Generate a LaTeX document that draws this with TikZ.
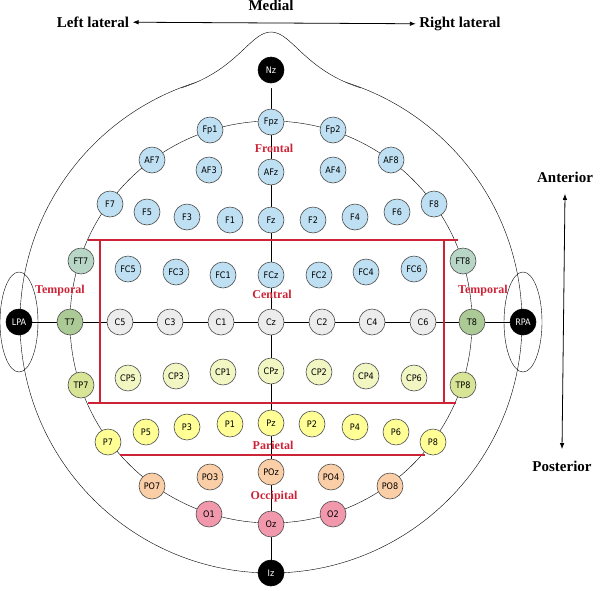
\documentclass[tikz,border=0pt]{standalone}
\usepackage{fontspec}
\setmainfont{Liberation Serif}
\newfontfamily\elecfont{DejaVu Sans Condensed}
\usetikzlibrary{arrows.meta}
\usetikzlibrary{backgrounds}
\definecolor{regionRed}{RGB}{205,35,55}
\definecolor{cFront}{RGB}{190,224,242}
\definecolor{cFT}{RGB}{184,214,198}
\definecolor{cT}{RGB}{172,202,150}
\definecolor{cC}{RGB}{236,236,236}
\definecolor{cCP}{RGB}{242,246,194}
\definecolor{cTP}{RGB}{216,228,150}
\definecolor{cP}{RGB}{255,255,150}
\definecolor{cPO}{RGB}{250,206,166}
\definecolor{cO}{RGB}{242,152,172}
\tikzset{
	electrode/.style = {circle, draw = gray!60!black, semithick, minimum size = 26pt, inner sep = 0pt, font = \elecfont\fontsize{9}{9}\selectfont},
	landmark/.style = {electrode, fill = black, text = white, draw = black},
	region/.style = {text = regionRed, font = \bfseries\fontsize{12}{12}\selectfont},
	direction/.style = {font = \bfseries\fontsize{15}{15}\selectfont},
	regionLine/.style = {draw = regionRed, line width = 2pt}
}
\begin{document}
\begin{tikzpicture}[x = 1pt, y = -1pt]
	\useasboundingbox (0,0) rectangle (604,590);

	% head outline and ears
	\def \headRadius {251};
	\coordinate (headCentre) at (271,322);
	\draw [thin] (headCentre) circle (\headRadius);
	\draw [thin, fill = white] (181,88) .. controls (238,70) and (250,32) .. (271,32) .. controls (292,32) and (304,70) .. (361,88);
	\draw [thin] (19,322) ellipse (19 and 50);
	\draw [thin] (523,322) ellipse (19 and 50);

	% electrodes
	\foreach \name/\px/\py/\col in {Fpz/271/122/cFront, Fp1/210/130/cFront, Fp2/333/130/cFront,
		AF7/152/160/cFront, AF3/209/170/cFront, AFz/271/172/cFront, AF4/333/170/cFront, AF8/391/160/cFront,
		F7/110/204/cFront, F5/147/212/cFront, F3/187/217/cFront, F1/230/220/cFront, Fz/271/220/cFront,
		F2/313/220/cFront, F4/355/217/cFront, F6/397/212/cFront, F8/434/204/cFront,
		FT7/81/261/cFT, FC5/128/269/cFront, FC3/176/272/cFront, FC1/223/275/cFront, FCz/271/275/cFront,
		FC2/319/275/cFront, FC4/366/272/cFront, FC6/414/269/cFront, FT8/463/261/cFT,
		T7/70/322/cT, C5/120/322/cC, C3/170/322/cC, C1/221/322/cC, Cz/271/322/cC,
		C2/322/322/cC, C4/372/322/cC, C6/423/322/cC, T8/472/322/cT,
		TP7/81/385/cTP, CP5/128/378/cCP, CP3/176/376/cCP, CP1/223/372/cCP, CPz/271/371/cCP,
		CP2/319/372/cCP, CP4/366/376/cCP, CP6/414/378/cCP, TP8/463/385/cTP,
		P7/108/442/cP, P5/146/432/cP, P3/187/427/cP, P1/230/424/cP, Pz/271/423/cP,
		P2/312/424/cP, P4/355/427/cP, P6/396/432/cP, P8/433/442/cP,
		PO7/152/486/cPO, PO3/210/477/cPO, POz/271/472/cPO, PO4/331/477/cPO, PO8/390/486/cPO,
		O1/209/514/cO, Oz/271/524/cO, O2/333/514/cO}
	{
		\node [electrode, fill = \col] (\name) at (\px,\py) {\name};
	}
	\node [landmark] (Nz) at (271,70) {Nz};
	\node [landmark] (Iz) at (271,573) {Iz};
	\node [landmark] (LPA) at (19,322) {LPA};
	\node [landmark] (RPA) at (523,322) {RPA};

	% grid lines behind electrodes
	\begin{scope}[on background layer]
		\draw [thin] (headCentre) circle (201);
		\draw [thin] (Nz.center) -- (Iz.center);
		\draw [thin] (LPA.center) -- (RPA.center);
	\end{scope}

	% regions
	\draw [regionLine] (88,240) -- (458,240);
	\draw [regionLine] (88,403) -- (456,403);
	\draw [regionLine] (100,240) -- (100,403);
	\draw [regionLine] (444,240) -- (444,403);
	\draw [regionLine] (120,455) -- (425,455);
	\node [region] (frontal) at (274,148) {Frontal};
	\node [region] (central) at (272,294) {Central};
	\node [region] (temporalL) at (60,291) {Temporal};
	\node [region] (temporalR) at (483,291) {Temporal};
	\node [region] (parietal) at (273,445) {Parietal};
	\node [region] (occipital) at (274,497) {Occipital};

	% directions
	\node [direction] (medial) at (271,5) {Medial};
	\node [direction] (leftLat) at (93,22) {Left lateral};
	\node [direction] (rightLat) at (460,24) {Right lateral};
	\draw [{Latex[length=6pt]}-{Latex[length=6pt]}, thick] (leftLat) -- (rightLat);
	\node [direction] (anterior) at (565,177) {Anterior};
	\node [direction] (posterior) at (562,466) {Posterior};
	\draw [{Latex[length=6pt]}-{Latex[length=6pt]}, thick] ([yshift=-8pt]anterior.south) -- ([yshift=8pt]posterior.north);
\end{tikzpicture}
\end{document}
